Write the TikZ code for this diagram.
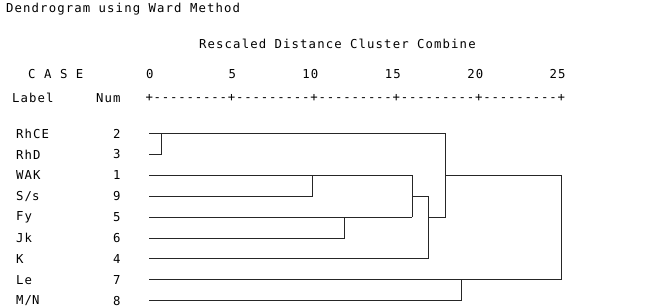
\documentclass[tikz,border=0pt]{standalone}
\usepackage{fontspec}
\newfontfamily\spssfont[LetterSpace=9]{DejaVu Sans Mono}
\newfontfamily\axisfont[LetterSpace=6.8]{DejaVu Sans Mono}
\usepackage{tikz}
\usetikzlibrary{positioning,calc}

\begin{document}
\begin{tikzpicture}[x=1pt,y=-1pt,
    txt/.style={inner sep=0pt,anchor=west,font=\spssfont\fontsize{12.3}{13}\selectfont},
    rtxt/.style={txt,anchor=east},
    axistxt/.style={txt,font=\axisfont\fontsize{12.3}{13}\selectfont},
    link/.style={line width=0.9pt,black!85},
    ]
\useasboundingbox (0,0) rectangle (665,307);

% headings
\node[txt] (title) at (6,9) {Dendrogram using Ward Method};
\node[txt] (scale) at (199,44) {Rescaled Distance Cluster Combine};
\node[txt] (case) at (28,74) {C A S E};
\node[txt] (lab) at (12,98) {Label};
\node[txt] (num) at (96,98) {Num};
\node[axistxt] (axis) at (145.3,98) {+---------+---------+---------+---------+---------+};
\foreach \d/\x in {0/149,5/231.4,10/313.8,15/396.2,20/478.6,25/561}
  \node[rtxt] (tick\d) at (\x+4.8,74) {\d};

% cases, top to bottom
\foreach \name/\n [count=\i] in {RhCE/2,RhD/3,WAK/1,S\slash s/9,Fy/5,Jk/6,K/4,Le/7,M\slash N/8}{
  \node[txt] (lab\i) at (16,112.6+20.9*\i) {\name};
  \node[txt] (num\i) at (113,112.6+20.9*\i) {\n};
  \coordinate (leaf\i) at (149,112.6+20.9*\i);
}

% joins
\coordinate (j12) at (161,0);   % RhCE + RhD
\coordinate (j34) at (312,0);   % WAK + S/s
\coordinate (j56) at (344,0);   % Fy + Jk
\coordinate (jA) at (412,0);
\coordinate (jB) at (428,0);    % + K
\coordinate (jC) at (445,0);
\coordinate (j89) at (461,0);   % Le + M/N
\coordinate (jD) at (561,0);

\draw[link] (leaf1) -- (leaf1 -| jC) -- (leaf5 -| jC) -- (leaf5 -| jB);
\draw[link] (leaf2) -- (leaf2 -| j12) -- (leaf1 -| j12);
\draw[link] (leaf3) -- (leaf3 -| jA) -- (leaf5 -| jA);
\draw[link] (leaf4) -- (leaf4 -| j34) -- (leaf3 -| j34);
\draw[link] (leaf5) -- (leaf5 -| jA);
\draw[link] (leaf6) -- (leaf6 -| j56) -- (leaf5 -| j56);
\draw[link] (leaf4 -| jA) -- (leaf4 -| jB) -- (leaf7 -| jB) -- (leaf7);
\draw[link] (leaf3 -| jC) -- (leaf3 -| jD) -- (leaf8 -| jD) -- (leaf8);
\draw[link] (leaf9) -- (leaf9 -| j89) -- (leaf8 -| j89);
\end{tikzpicture}
\end{document}
